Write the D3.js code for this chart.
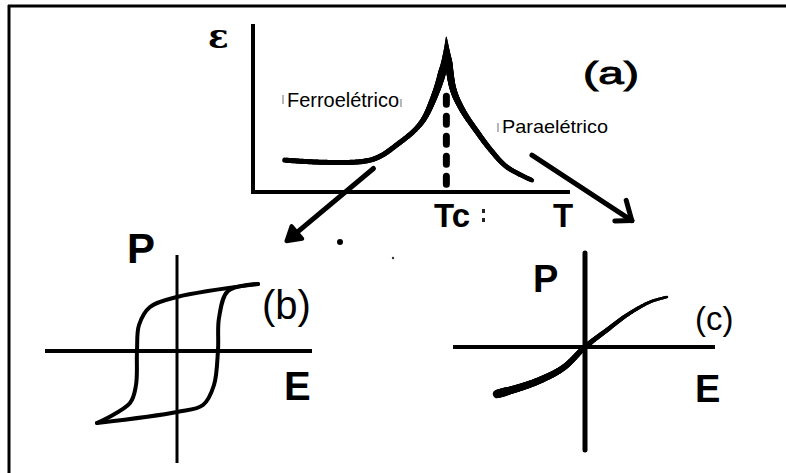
<!DOCTYPE html>
<html>
<head>
<meta charset="utf-8">
<script src="https://cdn.jsdelivr.net/npm/d3@7"></script>
<style>
  html, body { margin: 0; padding: 0; background: #fff; }
  svg { display: block; }
  text { font-family: "Liberation Sans", Arial, sans-serif; fill: #000; }
</style>
</head>
<body>
<svg id="chart" width="786" height="473"></svg>
<script>
// (a) permittivity against temperature, split at the Curie temperature
const ferroT   = [10, 37, 46, 53, 57, 60, 61];
const ferroEps = [19, 19, 29, 41, 56, 74, 92];
const paraT    = [61, 63, 66, 71, 75, 80, 88];
const paraEps  = [92, 62, 49, 35, 25, 15, 7];
const curieT = 61;
const curieDashTop = 57;

// (b) ferroelectric hysteresis loop P(E)
const loopUpperE = [0.81, 0.00, -0.27, -0.38, -0.40, -0.41, -0.47, -0.80];
const loopUpperP = [0.67, 0.54, 0.44, 0.26, 0.01, -0.34, -0.52, -0.72];
const loopLowerE = [-0.80, 0.00, 0.26, 0.37, 0.41, 0.42, 0.51, 0.81];
const loopLowerP = [-0.72, -0.61, -0.54, -0.34, 0.01, 0.33, 0.60, 0.67];

// (c) paraelectric response P(E)
const linE = [-0.88, -0.52, -0.22, 0.00, 0.22, 0.42, 0.65, 0.82];
const linP = [-0.47, -0.36, -0.21, 0.00, 0.17, 0.32, 0.45, 0.50];

// axis extents (in each panel's own units)
const axisA = { t: [0, 100], eps: [0, 100] };
const axisB = { e: [-1.32, 1.35], p: [-1.12, 0.96] };
const axisC = { e: [-1.32, 1.30], p: [-1.03, 0.94] };

// text
const labelEps = "ε", labelT = "T", labelTc = "Tc";
const labelFerro = "Ferroelétrico", labelPara = "Paraelétrico";
const labelP = "P", labelE = "E";
const tagA = "(a)", tagB = "(b)", tagC = "(c)";

const zip = (xs, ys) => xs.map((x, i) => [x, ys[i]]);

const svg = d3.select("#chart");

// frame
svg.append("line").attr("x1", 8).attr("x2", 786).attr("y1", 6).attr("y2", 6)
  .attr("stroke", "#000").attr("stroke-width", 3);
svg.append("line").attr("x1", 9).attr("x2", 9).attr("y1", 5).attr("y2", 473)
  .attr("stroke", "#000").attr("stroke-width", 3);

// draws a curve whose stroke width varies along its length
function taperedCurve(g, pts, widthAt, curve) {
  const d = d3.line().curve(curve || d3.curveCatmullRom.alpha(0.5))(pts);
  const tmp = g.append("path").attr("d", d).attr("fill", "none");
  const node = tmp.node();
  const L = node.getTotalLength();
  const N = 160;
  const samples = d3.range(N + 1).map(i => {
    const p = node.getPointAtLength(L * i / N);
    return [p.x, p.y, i / N];
  });
  tmp.remove();
  for (let i = 0; i < N; i++) {
    const a = samples[i], b = samples[i + 1];
    g.append("line")
      .attr("x1", a[0]).attr("y1", a[1]).attr("x2", b[0]).attr("y2", b[1])
      .attr("stroke", "#000").attr("stroke-linecap", "round")
      .attr("stroke-width", widthAt((a[2] + b[2]) / 2));
  }
}

// ---------- panel (a) ----------
const xA = d3.scaleLinear().domain([0, 100]).range([253, 570]);
const yA = d3.scaleLinear().domain([0, 100]).range([192, 24]);
const gA = svg.append("g");

gA.append("path")
  .attr("d", d3.line()([[axisA.t[0], axisA.eps[1]], [axisA.t[0], axisA.eps[0]], [axisA.t[1], axisA.eps[0]]]
    .map(d => [xA(d[0]), yA(d[1])])))
  .attr("fill", "none").attr("stroke", "#000").attr("stroke-width", 4)
  .attr("stroke-linejoin", "miter");

// dashed line at Tc
gA.append("line")
  .attr("x1", xA(curieT)).attr("x2", xA(curieT))
  .attr("y1", yA(curieDashTop)).attr("y2", yA(2))
  .attr("stroke", "#000").attr("stroke-width", 7)
  .attr("stroke-linecap", "round").attr("stroke-dasharray", "8,12");

const ferroPts = zip(ferroT, ferroEps).map(d => [xA(d[0]), yA(d[1])]);
const paraPts = zip(paraT, paraEps).map(d => [xA(d[0]), yA(d[1])]);
taperedCurve(gA, ferroPts, t => t < 0.6 ? 5 : (t < 0.85 ? 5 + (t - 0.6) * 12 : 8 - (t - 0.85) / 0.15 * 7));
taperedCurve(gA, paraPts, t => t < 0.15 ? 1 + t / 0.15 * 6.5 : (t < 0.5 ? 7.5 - (t - 0.15) * 6 : 5.4 - (t - 0.5) * 2));

gA.append("text").attr("x", 208).attr("y", 48).text(labelEps)
  .style("font-family", "'DejaVu Serif', serif")
  .attr("font-size", 34).attr("font-weight", "bold");
gA.append("text").attr("x", 583).attr("y", 84).text(tagA)
  .attr("font-size", 31).attr("textLength", 56).attr("lengthAdjust", "spacingAndGlyphs")
  .attr("stroke", "#000").attr("stroke-width", 0.9);
gA.append("text").attr("x", 287).attr("y", 107).text(labelFerro)
  .attr("font-size", 20).attr("textLength", 112).attr("lengthAdjust", "spacingAndGlyphs");
gA.append("text").attr("x", 502).attr("y", 133).text(labelPara)
  .attr("font-size", 19).attr("textLength", 106).attr("lengthAdjust", "spacingAndGlyphs");
gA.append("text").attr("x", 434).attr("y", 227).text(labelTc)
  .attr("font-size", 33).attr("font-weight", "bold");
gA.append("text").attr("x", 553).attr("y", 227).text(labelT)
  .attr("font-size", 33).attr("font-weight", "bold");

// faint bars beside the phase names
[[283, 95, 104], [401, 99, 107], [498, 123, 132]].forEach(([x, y1, y2]) =>
  gA.append("line").attr("x1", x).attr("x2", x).attr("y1", y1).attr("y2", y2)
    .attr("stroke", "#888").attr("stroke-width", 1.2));
// specks after Tc
[[482, 209], [482, 218]].forEach(([x, y]) =>
  gA.append("rect").attr("x", x).attr("y", y).attr("width", 3).attr("height", 4).attr("fill", "#222"));

// arrows from (a) down to (b) and (c), in panel (a) units
const arrowFerro = [[38, 14], [12, -27]];
const arrowPara = [[88, 22], [119.5, -17]];

function arrowLine(from, to, w) {
  svg.append("line")
    .attr("x1", xA(from[0])).attr("y1", yA(from[1]))
    .attr("x2", xA(to[0])).attr("y2", yA(to[1]))
    .attr("stroke", "#000").attr("stroke-width", w).attr("stroke-linecap", "round");
}
// solid head on the left arrow
{
  const [a, b] = arrowFerro;
  arrowLine(a, b, 5);
  const x2 = xA(b[0]), y2 = yA(b[1]);
  const ang = Math.atan2(y2 - yA(a[1]), x2 - xA(a[0]));
  const tip = [x2 + 6 * Math.cos(ang), y2 + 6 * Math.sin(ang)];
  const back = ang + Math.PI;
  const p1 = [tip[0] + 16 * Math.cos(back + 0.55), tip[1] + 16 * Math.sin(back + 0.55)];
  const p2 = [tip[0] + 16 * Math.cos(back - 0.55), tip[1] + 16 * Math.sin(back - 0.55)];
  svg.append("path").attr("d", d3.line()([tip, p1, p2]) + "Z")
    .attr("fill", "#000").attr("stroke", "#000").attr("stroke-width", 4)
    .attr("stroke-linejoin", "round");
}
// open head on the right arrow
{
  const [a, b] = arrowPara;
  arrowLine(a, b, 5);
  const x2 = xA(b[0]), y2 = yA(b[1]);
  const ang = Math.atan2(y2 - yA(a[1]), x2 - xA(a[0]));
  const back = ang + Math.PI;
  [0.72, -0.6].forEach((off, i) => {
    const len = i === 0 ? 21 : 17;
    svg.append("line").attr("x1", x2).attr("y1", y2)
      .attr("x2", x2 + len * Math.cos(back + off)).attr("y2", y2 + len * Math.sin(back + off))
      .attr("stroke", "#000").attr("stroke-width", 5).attr("stroke-linecap", "round");
  });
}
// stray specks
svg.append("circle").attr("cx", 340).attr("cy", 242).attr("r", 3).attr("fill", "#000");
svg.append("circle").attr("cx", 393).attr("cy", 258).attr("r", 1.2).attr("fill", "#333");

// ---------- panel (b) ----------
const xB = d3.scaleLinear().domain([-1, 1]).range([77, 277]);
const yB = d3.scaleLinear().domain([-1, 1]).range([451, 251]);
const gB = svg.append("g");

gB.append("line").attr("x1", xB(axisB.e[0])).attr("x2", xB(axisB.e[1]))
  .attr("y1", yB(0)).attr("y2", yB(0))
  .attr("stroke", "#000").attr("stroke-width", 4);
gB.append("line").attr("x1", xB(0)).attr("x2", xB(0))
  .attr("y1", yB(axisB.p[1])).attr("y2", yB(axisB.p[0]))
  .attr("stroke", "#000").attr("stroke-width", 3);

const loopLine = d3.line().x(d => xB(d[0])).y(d => yB(d[1])).curve(d3.curveCatmullRom.alpha(0.5));
[zip(loopUpperE, loopUpperP), zip(loopLowerE, loopLowerP)].forEach(branch =>
  gB.append("path").attr("d", loopLine(branch))
    .attr("fill", "none").attr("stroke", "#000").attr("stroke-width", 4)
    .attr("stroke-linecap", "round").attr("stroke-linejoin", "round"));

gB.append("text").attr("x", 127).attr("y", 263).text(labelP)
  .attr("font-size", 42).attr("font-weight", "bold");
gB.append("text").attr("x", 284).attr("y", 400).text(labelE)
  .attr("font-size", 40).attr("font-weight", "bold");
gB.append("text").attr("x", 262).attr("y", 319).text(tagB)
  .attr("font-size", 40);

// ---------- panel (c) ----------
const xC = d3.scaleLinear().domain([-1, 1]).range([485, 685]);
const yC = d3.scaleLinear().domain([-1, 1]).range([447, 247]);
const gC = svg.append("g");

gC.append("line").attr("x1", xC(axisC.e[0])).attr("x2", xC(axisC.e[1]))
  .attr("y1", yC(0)).attr("y2", yC(0))
  .attr("stroke", "#000").attr("stroke-width", 4);
gC.append("line").attr("x1", xC(0)).attr("x2", xC(0))
  .attr("y1", yC(axisC.p[1])).attr("y2", yC(axisC.p[0]))
  .attr("stroke", "#000").attr("stroke-width", 5).attr("stroke-linecap", "round");

taperedCurve(gC, zip(linE, linP).map(d => [xC(d[0]), yC(d[1])]),
  t => t < 0.05 ? 8.5 : 8 - t * 5.5);

gC.append("text").attr("x", 533).attr("y", 292).text(labelP)
  .attr("font-size", 38).attr("font-weight", "bold");
gC.append("text").attr("x", 695).attr("y", 402).text(labelE)
  .attr("font-size", 38).attr("font-weight", "bold");
gC.append("text").attr("x", 695).attr("y", 330).text(tagC)
  .attr("font-size", 33);
</script>
</body>
</html>
